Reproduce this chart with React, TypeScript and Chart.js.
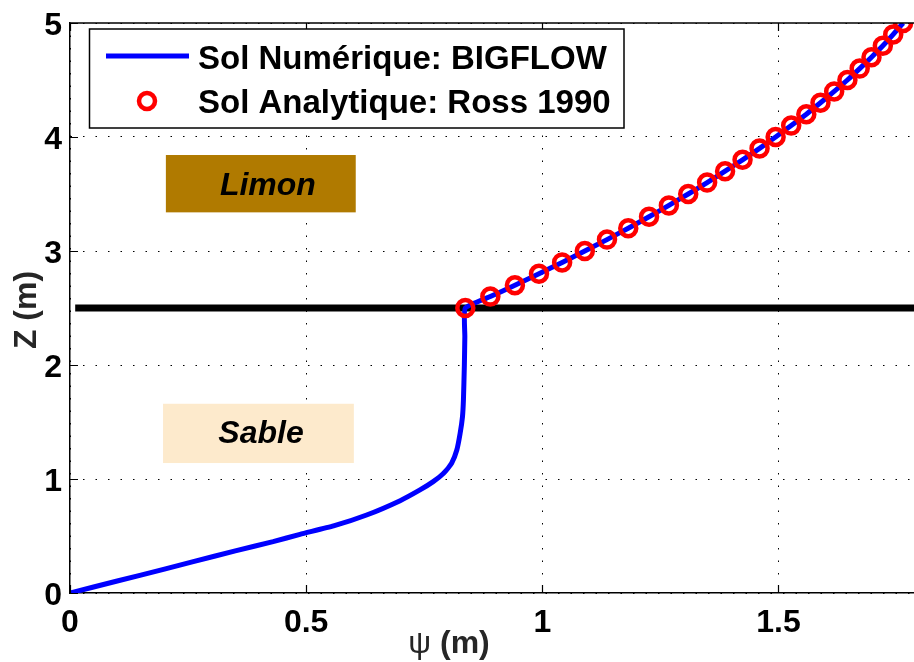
import React, { useEffect, useRef } from "react";
import { Chart, registerables } from "chart.js";

Chart.register(...registerables);

// ---- data ----
const psiSable = [0, 0.1, 0.2, 0.261, 0.35, 0.43, 0.487, 0.558, 0.628, 0.699, 0.741, 0.769, 0.791, 0.808, 0.819, 0.826, 0.831, 0.833, 0.835, 0.836];
const zSable = [0, 0.105, 0.21, 0.275, 0.37, 0.45, 0.515, 0.588, 0.684, 0.81, 0.904, 0.977, 1.05, 1.138, 1.254, 1.4, 1.547, 1.693, 2.0, 2.25];

const zLimon = [2.5, 2.6, 2.7, 2.8, 2.9, 3.0, 3.1, 3.2, 3.3, 3.4, 3.5, 3.6, 3.7, 3.8, 3.9, 4.0, 4.1, 4.2, 4.3, 4.4, 4.5, 4.6, 4.7, 4.8, 4.9, 5.0];
const psiLimonNum = [0.837, 0.89, 0.942, 0.993, 1.042, 1.09, 1.137, 1.182, 1.226, 1.268, 1.309, 1.349, 1.387, 1.424, 1.46, 1.494, 1.527, 1.559, 1.589, 1.618, 1.646, 1.672, 1.697, 1.721, 1.743, 1.764];
const psiAnalytic = [0.837, 0.89, 0.942, 0.993, 1.042, 1.09, 1.137, 1.182, 1.226, 1.268, 1.309, 1.349, 1.387, 1.424, 1.46, 1.494, 1.527, 1.559, 1.589, 1.618, 1.646, 1.672, 1.697, 1.721, 1.743, 1.764];

const interfaceZ = 2.5;
const interfacePsi = [0.011, 1.79];

const xTicks = [0, 0.5, 1, 1.5];
const yTicks = [0, 1, 2, 3, 4, 5];
const xRange = [0, 1.787];
const yRange = [0, 5];

const seriesLabels = ["Sol Numérique: BIGFLOW", "Sol Analytique: Ross 1990"];
const xTitleSymbol = "ψ";
const xTitleUnit = " (m)";
const yTitle = "Z (m)";

const layerNames = ["Limon", "Sable"];
const layerColors = ["#B07A00", "#FDEACC"];
const layerBoxPsi = [[0.203, 0.605], [0.197, 0.601]];
const layerBoxZ = [[3.339, 3.842], [1.14, 1.66]];
const layerTextPsi = [0.419, 0.4045];
const layerTextZ = [3.491, 1.318];

const FONT = "'Liberation Sans', Arial, Helvetica, sans-serif";

const decorPlugin = {
  id: "decor",
  beforeDatasetsDraw(chart: any) {
    const { ctx } = chart;
    const xs = chart.scales.x;
    const ys = chart.scales.y;
    ctx.save();
    for (let i = 0; i < layerNames.length; i++) {
      const x1 = xs.getPixelForValue(layerBoxPsi[i][0]);
      const x2 = xs.getPixelForValue(layerBoxPsi[i][1]);
      const y1 = ys.getPixelForValue(layerBoxZ[i][1]);
      const y2 = ys.getPixelForValue(layerBoxZ[i][0]);
      ctx.fillStyle = layerColors[i];
      ctx.fillRect(x1, y1, x2 - x1, y2 - y1);
      ctx.fillStyle = "#000";
      ctx.font = `italic bold 32px ${FONT}`;
      ctx.textAlign = "center";
      ctx.textBaseline = "alphabetic";
      ctx.fillText(layerNames[i], xs.getPixelForValue(layerTextPsi[i]), ys.getPixelForValue(layerTextZ[i]));
    }
    ctx.restore();
  },
  afterDraw(chart: any) {
    const { ctx, chartArea } = chart;
    const xs = chart.scales.x;
    const ys = chart.scales.y;
    const { left, right, top, bottom } = chartArea;
    ctx.save();
    // top border
    ctx.strokeStyle = "#000";
    ctx.lineWidth = 1.5;
    ctx.beginPath();
    ctx.moveTo(left, top);
    ctx.lineTo(right, top);
    ctx.stroke();
    // inward tick marks
    ctx.lineWidth = 1.2;
    const tl = 8;
    ctx.beginPath();
    for (const v of xTicks) {
      const px = Math.round(xs.getPixelForValue(v)) + 0.5;
      ctx.moveTo(px, bottom);
      ctx.lineTo(px, bottom - tl);
      ctx.moveTo(px, top);
      ctx.lineTo(px, top + tl);
    }
    for (const v of yTicks) {
      const py = Math.round(ys.getPixelForValue(v)) + 0.5;
      ctx.moveTo(left, py);
      ctx.lineTo(left + tl, py);
    }
    ctx.stroke();

    // legend
    const ds = chart.data.datasets;
    const bx = left + 19.5;
    const by = top + 6;
    const bw = 534.5;
    const bh = 99;
    ctx.fillStyle = "#fff";
    ctx.fillRect(bx, by, bw, bh);
    ctx.strokeStyle = "#000";
    ctx.lineWidth = 1.5;
    ctx.strokeRect(bx, by, bw, bh);
    // line sample
    ctx.strokeStyle = ds[0].borderColor;
    ctx.lineWidth = ds[0].borderWidth;
    ctx.beginPath();
    ctx.moveTo(bx + 16.5, by + 27);
    ctx.lineTo(bx + 99.5, by + 27);
    ctx.stroke();
    // marker sample
    ctx.strokeStyle = ds[1].borderColor;
    ctx.lineWidth = ds[1].borderWidth;
    ctx.beginPath();
    ctx.arc(bx + 57.5, by + 72, ds[1].pointRadius, 0, Math.PI * 2);
    ctx.stroke();
    ctx.fillStyle = "#000";
    ctx.font = `bold 33px ${FONT}`;
    ctx.textAlign = "left";
    ctx.textBaseline = "alphabetic";
    ctx.fillText(ds[0].label, bx + 108.5, by + 40);
    ctx.fillText(ds[1].label, bx + 108.5, by + 84);

    // axis titles
    ctx.fillStyle = "#262626";
    ctx.font = `32px ${FONT}`;
    const wSym = ctx.measureText(xTitleSymbol).width;
    ctx.font = `bold 32px ${FONT}`;
    const wUnit = ctx.measureText(xTitleUnit).width;
    const cx = 449;
    const startX = cx - (wSym + wUnit) / 2;
    ctx.textAlign = "left";
    ctx.font = `32px ${FONT}`;
    ctx.fillText(xTitleSymbol, startX, 653);
    ctx.font = `bold 32px ${FONT}`;
    ctx.fillText(xTitleUnit, startX + wSym, 653);

    ctx.translate(36, (top + bottom) / 2 + 2);
    ctx.rotate(-Math.PI / 2);
    ctx.textAlign = "center";
    ctx.fillText(yTitle, 0, 0);
    ctx.restore();
  },
};

export default function App() {
  const canvasRef = useRef<HTMLCanvasElement | null>(null);

  useEffect(() => {
    document.body.style.margin = "0";
    const canvas = canvasRef.current;
    if (!canvas) return;

    const numData = [
      ...psiSable.map((p, i) => ({ x: p, y: zSable[i] })),
      ...psiLimonNum.map((p, i) => ({ x: p, y: zLimon[i] })),
    ];
    const anaData = psiAnalytic.map((p, i) => ({ x: p, y: zLimon[i] }));
    const ifaceData = interfacePsi.map((p) => ({ x: p, y: interfaceZ }));

    const tickFont = { family: FONT, size: 32, weight: "bold" as const };

    const chart = new Chart(canvas, {
      type: "scatter",
      data: {
        datasets: [
          {
            label: seriesLabels[0],
            data: numData,
            showLine: true,
            borderColor: "#0000FF",
            borderWidth: 5,
            pointRadius: 0,
            tension: 0.15,
            order: 2,
          } as any,
          {
            label: seriesLabels[1],
            data: anaData,
            showLine: false,
            borderColor: "#FF0000",
            backgroundColor: "rgba(0,0,0,0)",
            borderWidth: 4.5,
            pointRadius: 8,
            pointStyle: "circle",
            order: 1,
          } as any,
          {
            label: "interface",
            data: ifaceData,
            showLine: true,
            borderColor: "#000000",
            borderWidth: 7,
            pointRadius: 0,
            order: 3,
          } as any,
        ],
      },
      options: {
        responsive: false,
        animation: false,
        devicePixelRatio: 1,
        layout: { autoPadding: false, padding: { top: 23, right: 0, left: 0, bottom: 0 } },
        plugins: {
          legend: { display: false },
          tooltip: { enabled: false },
          title: { display: false },
        },
        scales: {
          x: {
            type: "linear",
            min: xRange[0],
            max: xRange[1],
            afterBuildTicks: (scale: any) => {
              scale.ticks = xTicks.map((v) => ({ value: v }));
            },
            afterFit: (scale: any) => {
              scale.height = 69;
              scale.paddingRight = 0;
              scale.paddingLeft = 0;
            },
            ticks: {
              font: tickFont,
              color: "#000",
              padding: 11,
              maxRotation: 0,
              autoSkip: false,
              callback: (v: any) => String(v),
            },
            grid: {
              color: "#000",
              lineWidth: 1,
              drawTicks: false,
            },
            border: { display: true, color: "#000", width: 1.5, dash: [1.5, 11] },
          },
          y: {
            type: "linear",
            min: yRange[0],
            max: yRange[1],
            afterBuildTicks: (scale: any) => {
              scale.ticks = yTicks.map((v) => ({ value: v }));
            },
            afterFit: (scale: any) => {
              scale.width = 70;
              scale.paddingTop = 0;
              scale.paddingBottom = 0;
            },
            ticks: {
              font: tickFont,
              color: "#000",
              padding: 8,
              labelOffset: 3,
              autoSkip: false,
              callback: (v: any) => String(v),
            },
            grid: {
              color: "#000",
              lineWidth: 1,
              drawTicks: false,
            },
            border: { display: true, color: "#000", width: 1.5, dash: [1.5, 11] },
          },
        },
      } as any,
      plugins: [decorPlugin],
    });

    return () => chart.destroy();
  }, []);

  return (
    <div style={{ position: "absolute", left: 0, top: 0, width: 914, height: 662, background: "#fff" }}>
      <canvas ref={canvasRef} width={914} height={662} style={{ display: "block" }} />
    </div>
  );
}
